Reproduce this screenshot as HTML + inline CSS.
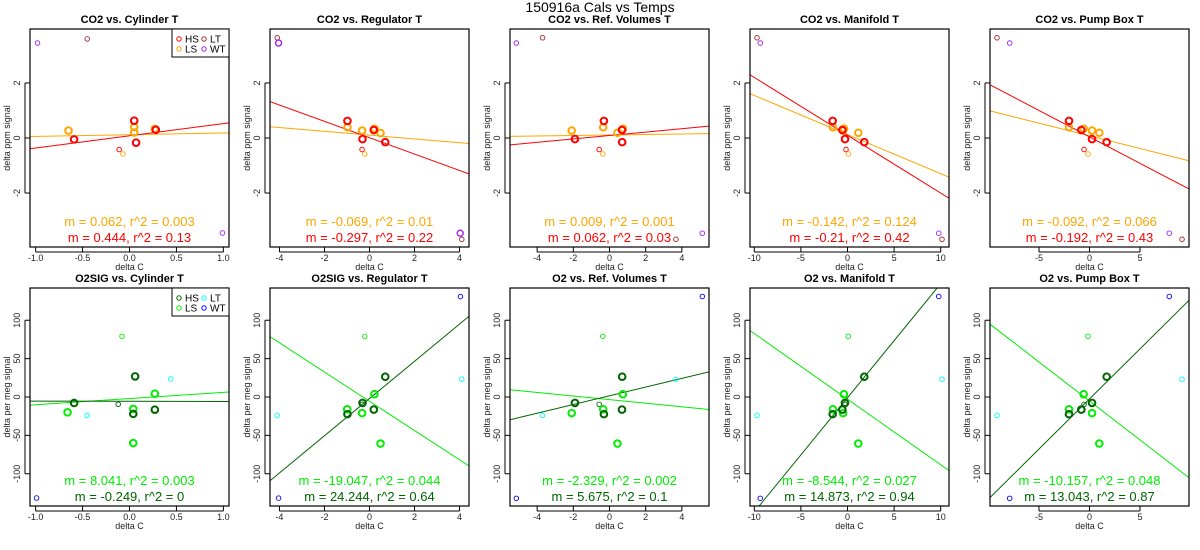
<!DOCTYPE html>
<html><head><meta charset="utf-8"><style>
html,body{margin:0;padding:0;background:#fff;}
svg{display:block;font-family:"Liberation Sans",Arial,sans-serif;}
</style></head><body>
<svg id="chart" width="1200" height="550" viewBox="0 0 1200 550" xmlns="http://www.w3.org/2000/svg">
<rect x="0" y="0" width="1200" height="550" fill="#fff"/>
<text x="600" y="12" font-size="14" text-anchor="middle">150916a   Cals vs Temps</text>
</svg>
<script>
const titlesTop = ["CO2 vs. Cylinder T","CO2 vs. Regulator T","CO2 vs. Ref. Volumes T","CO2 vs. Manifold T","CO2 vs. Pump Box T"];
const titlesBot = ["O2SIG vs. Cylinder T","O2SIG vs. Regulator T","O2 vs. Ref. Volumes T","O2 vs. Manifold T","O2 vs. Pump Box T"];
const xLims = [[-1.06,1.06],[-4.42,4.42],[-5.5,5.5],[-10.46,10.89],[-9.85,9.85]];
const xTicks = [[-1,-0.5,0,0.5,1],[-4,-2,0,2,4],[-4,-2,0,2,4],[-10,-5,0,5,10],[-5,0,5]];
const xTickLabels = [["-1.0","-0.5","0.0","0.5","1.0"],["-4","-2","0","2","4"],["-4","-2","0","2","4"],["-10","-5","0","5","10"],["-5","0","5"]];
const yLimTop = [-3.96,3.96];
const yLimBot = [-142,142];
const yTicksTop = [-2,0,2];
const yTicksBot = [-100,-50,0,50,100];

const co2HS = [
 [[-0.59,-0.05],[0.05,0.63],[0.07,-0.17],[0.28,0.3]],
 [[-0.98,0.62],[-0.31,-0.04],[0.19,0.29],[0.7,-0.15]],
 [[-1.91,-0.04],[-0.31,0.62],[0.69,0.29],[0.7,-0.15]],
 [[-1.59,0.62],[-0.27,-0.04],[-0.55,0.29],[1.8,-0.15]],
 [[-2.03,0.62],[-0.81,0.29],[0.25,-0.04],[1.7,-0.15]]];
const co2LS = [
 [[-0.65,0.27],[0.05,0.4],[0.05,0.2],[0.27,0.33]],
 [[-0.98,0.39],[-0.33,0.27],[0.22,0.34],[0.49,0.18]],
 [[-2.09,0.27],[-0.35,0.39],[0.44,0.19],[0.74,0.34]],
 [[-1.56,0.39],[-0.38,0.34],[-0.48,0.27],[1.16,0.19]],
 [[-2.03,0.39],[-0.58,0.34],[0.25,0.27],[0.97,0.19]]];
const co2ThinHS = [[-0.11,-0.42],[-0.33,-0.42],[-0.57,-0.42],[-0.16,-0.42],[-0.54,-0.42]];
const co2ThinLS = [[-0.07,-0.58],[-0.21,-0.58],[-0.37,-0.58],[0.09,-0.58],[-0.15,-0.58]];
const co2LT = [[[-0.45,3.6]],[[-4.1,3.64],[4.1,-3.68]],[[-3.7,3.64],[3.67,-3.68]],[[-9.71,3.64],[10.14,-3.68]],[[-9.16,3.64],[9.16,-3.68]]];
const co2WT = [[[-0.98,3.45],[0.99,-3.45]],[[-4.04,3.45],[4.03,-3.46]],[[-5.15,3.45],[5.13,-3.46]],[[-9.36,3.45],[9.79,-3.46]],[[-7.9,3.45],[7.9,-3.46]]];
const co2SlopeHS = [0.444,-0.297,0.062,-0.21,-0.192];
const co2R2HS = ["0.13","0.22","0.03","0.42","0.43"];
const co2IntHS = [0.08,0.01,0.09,0.1,0.04];
const co2SlopeLS = [0.062,-0.069,0.009,-0.142,-0.092];
const co2R2LS = ["0.003","0.01","0.001","0.124","0.066"];
const co2IntLS = [0.12,0.105,0.11,0.125,0.08];

const o2HS = [
 [[-0.59,-7.8],[0.06,26.8],[0.04,-22],[0.27,-16.5]],
 [[0.7,26.4],[-0.31,-7.7],[-0.98,-22.3],[0.19,-16.4]],
 [[-1.91,-7.7],[0.7,26.4],[-0.31,-22.3],[0.69,-16.4]],
 [[1.8,26.4],[-0.27,-7.7],[-1.59,-22.3],[-0.55,-16.4]],
 [[1.7,26.4],[0.25,-7.7],[-2.03,-22.3],[-0.81,-16.4]]];
const o2LS = [
 [[-0.66,-20],[0.04,-15.6],[0.04,-60],[0.27,4.3]],
 [[0.22,3.6],[-0.99,-16],[-0.33,-21],[0.49,-60.6]],
 [[-2.09,-21],[-0.35,-16],[0.74,3.6],[0.44,-60.6]],
 [[-0.38,3.6],[-1.56,-16],[-0.48,-21],[1.16,-60.6]],
 [[-0.58,3.6],[-2.03,-16],[0.25,-21],[0.97,-60.6]]];
const o2ThinLS = [[-0.08,79],[-0.21,78.8],[-0.37,79],[0.09,79],[-0.15,79]];
const o2ThinHS = [[-0.12,-9.5],[-0.31,-9.5],[-0.57,-9.6],[-0.27,-9.6],[-0.54,-9.6]];
const o2LT = [[[-0.45,-24],[0.44,23.4]],[[-4.1,-24.1],[4.1,23.2]],[[-3.7,-24],[3.67,23]],[[-9.71,-24],[10.14,23]],[[-9.16,-24],[9.16,23]]];
const o2WT = [[[-0.99,-131.6]],[[4.04,130.8],[-4.04,-131.7]],[[5.13,131],[-5.15,-132]],[[9.79,131],[-9.36,-132]],[[7.9,131],[-7.9,-132]]];
const o2SlopeHS = [-0.249,24.244,5.675,14.873,13.043];
const o2R2HS = ["0","0.64","0.1","0.94","0.87"];
const o2IntHS = [-5.6,-2,1.6,-1,-2.5];
const o2SlopeLS = [8.041,-19.047,-2.329,-8.544,-10.157];
const o2R2LS = ["0.003","0.044","0.002","0.027","0.048"];
const o2IntLS = [-2,-5.6,-3.4,-2.8,-5.2];

const NS = "http://www.w3.org/2000/svg";
const svg = document.getElementById('chart');
function mk(tag, attrs, parent){
  const e = document.createElementNS(NS, tag);
  for (const k in attrs) e.setAttribute(k, attrs[k]);
  (parent||svg).appendChild(e);
  return e;
}
const BOX_L = 30, BOX_R = 229;

function drawPanel(col, row){
  const ox = 240*col;
  const top = row===0 ? 29 : 288, bot = row===0 ? 247 : 506;
  const L = ox+BOX_L, R = ox+BOX_R;
  const xl = xLims[col];
  const yl = row===0 ? yLimTop : yLimBot;
  const sx = v => L + (v-xl[0])/(xl[1]-xl[0])*(R-L);
  const sy = v => bot - (v-yl[0])/(yl[1]-yl[0])*(bot-top);
  const g = mk('g', {});
  
  
  const clipId = 'clip'+row+col;
  const cp = mk('clipPath', {id:clipId}, g);
  mk('rect', {x:L, y:top, width:R-L, height:bot-top}, cp);

  const t = mk('text', {x:ox+129.5, y:top-6, 'font-size':11, 'font-weight':'bold', 'text-anchor':'middle'}, g);
  t.textContent = row===0 ? titlesTop[col] : titlesBot[col];
  
  

  xTicks[col].forEach((v,i)=>{
    const x = sx(v);
    mk('line', {x1:x, y1:bot, x2:x, y2:bot+5, stroke:'#000', 'stroke-width':1}, g);
    const tl = mk('text', {x:x, y:bot+14, 'font-size':9, 'text-anchor':'middle', fill:'#222'}, g);
    tl.textContent = xTickLabels[col][i];
    
    
  });
  mk('line', {x1:sx(xTicks[col][0]), y1:bot+5, x2:sx(xTicks[col][xTicks[col].length-1]), y2:bot+5, stroke:'#000','stroke-width':1}, g);
  const xt = mk('text', {x:ox+129.5, y:bot+23, 'font-size':9, 'text-anchor':'middle', fill:'#222'}, g);
  xt.textContent = 'delta C';
  
  

  const yt = row===0 ? yTicksTop : yTicksBot;
  yt.forEach(v=>{
    const y = sy(v);
    mk('line', {x1:L-5, y1:y, x2:L, y2:y, stroke:'#000','stroke-width':1}, g);
    const tl = mk('text', {x:0, y:0, 'font-size':9, 'text-anchor':'middle', fill:'#222', transform:`translate(${L-10},${y}) rotate(-90)`}, g);
    tl.textContent = String(v);
    
    
  });
  mk('line', {x1:L-5, y1:sy(yt[0]), x2:L-5, y2:sy(yt[yt.length-1]), stroke:'#000','stroke-width':1}, g);
  const ylab = mk('text', {x:0, y:0, 'font-size':9, 'text-anchor':'middle', fill:'#222', transform:`translate(${ox+10},${(top+bot)/2}) rotate(-90)`}, g);
  ylab.textContent = row===0 ? 'delta ppm signal' : 'delta per meg signal';
  
  

  const pg = mk('g', {'clip-path':`url(#${clipId})`}, g);
  const cHS = row===0 ? '#ff0000' : '#006400';
  const cLS = row===0 ? '#ffa500' : '#00ee00';
  const cLT = row===0 ? '#a52a2a' : '#00ffff';
  const cWT = row===0 ? '#a020f0' : '#0000ff';

  const slopes = row===0 ? [co2SlopeLS[col], co2SlopeHS[col]] : [o2SlopeLS[col], o2SlopeHS[col]];
  const ints = row===0 ? [co2IntLS[col], co2IntHS[col]] : [o2IntLS[col], o2IntHS[col]];
  [cLS, cHS].forEach((c,i)=>{
    const ln = mk('line', {x1:sx(xl[0]), y1:sy(ints[i]+slopes[i]*xl[0]), x2:sx(xl[1]), y2:sy(ints[i]+slopes[i]*xl[1]), stroke:c, 'stroke-width':1}, pg);
    
    
  });

  function pts(list, color, r, w, name){
    list.forEach(p=>{
      const c = mk('circle', {cx:sx(p[0]), cy:sy(p[1]), r:r, fill:'none', stroke:color, 'stroke-width':w}, pg);
      
      
    });
  }
  if (row===0){
    pts(co2LT[col], cLT, 2.3, 0.9, 'lt-point');
    pts(co2WT[col], cWT, col===1?3:2.3, col===1?1.4:0.9, 'wt-point');
    pts([co2ThinHS[col]], cHS, 2.3, 0.9, 'hs-thin-point');
    pts([co2ThinLS[col]], cLS, 2.3, 0.9, 'ls-thin-point');
    pts(co2LS[col], cLS, 3.3, 2, 'ls-point');
    pts(co2HS[col], cHS, 3.3, 2, 'hs-point');
  } else {
    pts(o2LT[col], cLT, 2.3, 0.9, 'lt-point');
    pts(o2WT[col], cWT, 2.3, 0.9, 'wt-point');
    pts([o2ThinHS[col]], cHS, 2.3, 0.9, 'hs-thin-point');
    pts([o2ThinLS[col]], cLS, 2.3, 0.9, 'ls-thin-point');
    pts(o2LS[col], cLS, 3.3, 2, 'ls-point');
    pts(o2HS[col], cHS, 3.3, 2, 'hs-point');
  }

  const a1 = mk('text', {x:ox+129.5, y:bot-21, 'font-size':13, 'text-anchor':'middle', fill:cLS}, g);
  a1.textContent = 'm = '+(row===0?co2SlopeLS[col]:o2SlopeLS[col])+', r^2 = '+(row===0?co2R2LS[col]:o2R2LS[col]);
  
  
  const a2 = mk('text', {x:ox+129.5, y:bot-5, 'font-size':13, 'text-anchor':'middle', fill:cHS}, g);
  a2.textContent = 'm = '+(row===0?co2SlopeHS[col]:o2SlopeHS[col])+', r^2 = '+(row===0?co2R2HS[col]:o2R2HS[col]);
  
  

  mk('rect', {x:L, y:top, width:R-L, height:bot-top, fill:'none', stroke:'#000', 'stroke-width':1.2}, g);

  if (col===0){
    const lg = mk('g', {}, g);
    
    
    mk('rect', {x:ox+172, y:top, width:57, height:28, fill:'#fff', stroke:'#000', 'stroke-width':1}, lg);
    const ents = [['HS',cHS,179,10],['LS',cLS,179,20],['LT',cLT,204,10],['WT',cWT,204,20]];
    ents.forEach(e=>{
      const eg = mk('g', {}, lg);
      
      
      mk('circle', {cx:ox+e[2], cy:top+e[3], r:2.2, fill:'none', stroke:e[1], 'stroke-width':1}, eg);
      const tx = mk('text', {x:ox+e[2]+6, y:top+e[3]+3.5, 'font-size':10}, eg);
      tx.textContent = e[0];
    });
  }
}
for (let r=0;r<2;r++) for (let c=0;c<5;c++) drawPanel(c,r);
</script>
</body></html>
